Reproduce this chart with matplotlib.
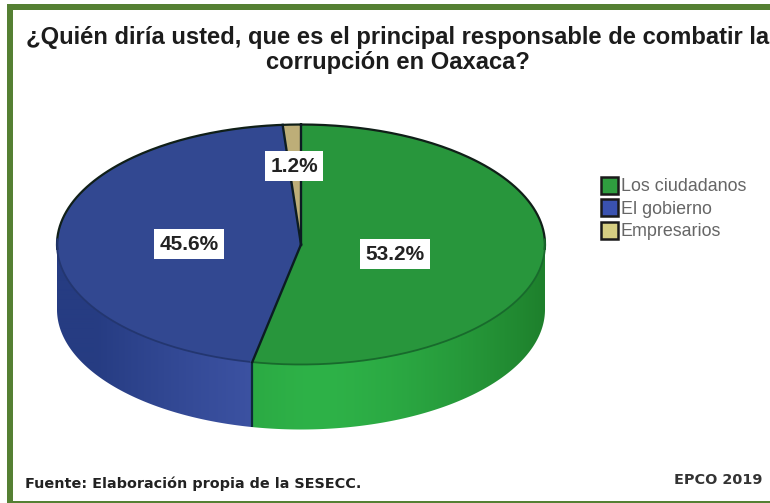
import numpy as np
import matplotlib
matplotlib.use('Agg')
import matplotlib.pyplot as plt
from matplotlib.patches import Polygon, Rectangle

plt.rcParams['font.family'] = ['Liberation Sans', 'DejaVu Sans']

labels = ['Los ciudadanos', 'El gobierno', 'Empresarios']
values = [53.2, 45.6, 1.2]
top_colors = ['#28963c', '#324891', '#bdae78']
side_light = np.array([[46, 178, 72], [64, 86, 168], [200, 190, 130]]) / 255
side_dark = np.array([[30, 128, 44], [38, 60, 130], [150, 140, 90]]) / 255
legend_colors = ['#2f9e3f', '#3a52b0', '#d6cf82']

title = '¿Quién diría usted, que es el principal responsable de combatir la\ncorrupción en Oaxaca?'
source = 'Fuente: Elaboración propia de la SESECC.'
stamp = 'EPCO 2019'

# geometria del pastel, en pixeles de la imagen
cx, cy, rx, ry, depth = 301, 244.5, 244, 120, 65


def rim(a):
    return cx + rx * np.sin(a), cy - ry * np.cos(a)


fig = plt.figure(figsize=(7.7, 5.03), dpi=100)
ax = fig.add_axes([0, 0, 1, 1])
ax.axis('off')

# marco verde
green = '#558033'
ax.add_patch(Rectangle((7, 4), 763, 6, fc=green, ec='none'))
ax.add_patch(Rectangle((7, 4), 6, 499, fc=green, ec='none'))
ax.add_patch(Rectangle((7, 500.5), 763, 2.5, fc=green, ec='none'))

edges = np.cumsum([0] + values) / 100 * 2 * np.pi

# pared lateral, solo la mitad de adelante, con degradado horizontal
grad_x = np.linspace(cx - rx, cx + rx, 488)
t = np.clip(np.abs(grad_x - 320) / 225, 0, 1) ** 1.5
for i in range(len(values)):
    start, end = max(edges[i], np.pi / 2), min(edges[i + 1], 3 * np.pi / 2)
    if end <= start:
        continue
    a = np.linspace(start, end, 200)
    xs, ys = rim(a)
    pts = np.column_stack([np.r_[xs, xs[::-1]], np.r_[ys, ys[::-1] + depth]])
    wall = Polygon(pts, closed=True, fc='none', ec='none')
    ax.add_patch(wall)
    img = side_light[i][None, None, :] * (1 - t)[None, :, None] + side_dark[i][None, None, :] * t[None, :, None]
    im = ax.imshow(img, extent=(cx - rx, cx + rx, cy + ry + depth + 5, cy - ry), aspect='auto',
                   interpolation='bilinear', zorder=1)
    im.set_clip_path(wall)

ax.set_xlim(0, 770)
ax.set_ylim(503, 0)

# arista entre los dos grupos en la pared
x_e, y_e = rim(edges[1])
ax.plot([x_e, x_e], [y_e, y_e + depth], color='#0d2a3a', lw=1.6, solid_capstyle='butt', zorder=2)

# cara superior
for i in range(len(values)):
    a = np.linspace(edges[i], edges[i + 1], 200)
    xs, ys = rim(a)
    pts = np.column_stack([np.r_[cx, xs], np.r_[cy, ys]])
    ax.add_patch(Polygon(pts, closed=True, fc=top_colors[i], ec='none', zorder=2))

# contorno: oscuro arriba, suave abajo
a = np.linspace(0, 2 * np.pi, 400)
xs, ys = rim(a)
back = np.cos(a) > -0.05
ax.plot(np.where(back, xs, np.nan), np.where(back, ys, np.nan), color='#101f18', lw=1.6, zorder=3)
front_g = (np.cos(a) <= 0.05) & (a < edges[1])
front_b = (np.cos(a) <= 0.05) & (a >= edges[1])
ax.plot(np.where(front_g, xs, np.nan), np.where(front_g, ys, np.nan), color='#186a2c', lw=1.3, zorder=3)
ax.plot(np.where(front_b, xs, np.nan), np.where(front_b, ys, np.nan), color='#233670', lw=1.3, zorder=3)

# radios entre rebanadas
for e in edges[1:]:
    xr, yr = rim(e)
    ax.plot([cx, xr], [cy, yr], color='#0c1c22', lw=1.7, zorder=3)

# etiquetas de porcentaje
label_pos = [(395, 254), (189, 244), (294, 166)]
for v, (lx, ly) in zip(values, label_pos):
    ax.text(lx, ly, f'{v:.1f}%', ha='center', va='center', fontsize=15,
            fontweight='bold', color='#222222', zorder=5,
            bbox=dict(fc='white', ec='none', pad=4))

# leyenda
for i, (name, col) in enumerate(zip(labels, legend_colors)):
    y = 185 + i * 22.5
    ax.add_patch(Rectangle((601, y - 8.5), 17, 17, fc=col, ec='#1a1a1a', lw=1.8))
    ax.text(621, y + 1.5, name, ha='left', va='center', fontsize=12.9, color='#666666')

ax.text(398, 50, title, ha='center', va='center', fontsize=17.1, fontweight='bold',
        color='#1c1c1c', linespacing=1.12)
ax.text(25, 484, source, ha='left', va='center', fontsize=10.35, fontweight='bold',
        color='#222222', family='DejaVu Sans')
ax.text(762, 480, stamp, ha='right', va='center', fontsize=10.35, fontweight='bold',
        color='#333333', family='DejaVu Sans')

fig.savefig('out.png', dpi=100)
